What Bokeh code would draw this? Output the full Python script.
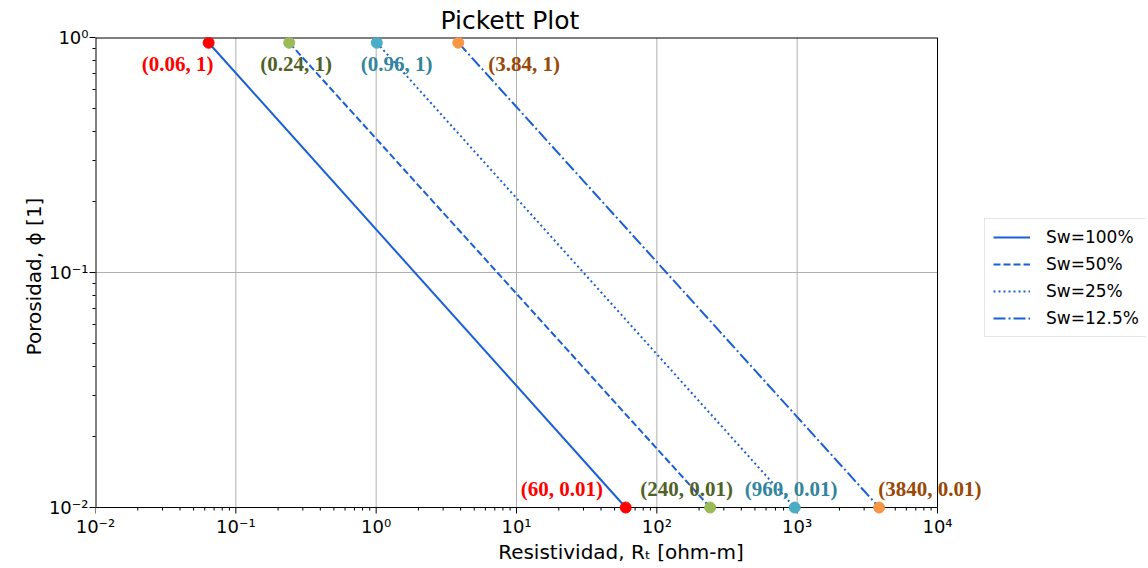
import math
from bokeh.plotting import figure
from bokeh.models import (Legend, LegendItem, FixedTicker,
                          CustomJSTickFormatter, Range1d, Label)
from bokeh.embed import file_html
from bokeh.resources import INLINE

# ---- data ----
series_labels = ["Sw=100%", "Sw=50%", "Sw=25%", "Sw=12.5%"]
rt_top = [0.064, 0.24, 1.01, 3.85]
phi_top = [0.95, 0.95, 0.95, 0.95]
rt_bottom = [60, 240, 960, 3840]
phi_bottom = [0.01, 0.01, 0.01, 0.01]
top_texts = ["(0.06, 1)", "(0.24, 1)", "(0.96, 1)", "(3.84, 1)"]
bottom_texts = ["(60, 0.01)", "(240, 0.01)", "(960, 0.01)", "(3840, 0.01)"]
x_major = [1e-2, 1e-1, 1e0, 1e1, 1e2, 1e3, 1e4]
y_major = [1e-2, 1e-1, 1e0]

# ---- styles / layout ----
line_color = "#1a5fd6"
dashes = ["solid", "7 3", "2 3", "12 3 2 3"]
dot_colors = ["#ff0000", "#9bbb59", "#4bacc6", "#f79646"]
text_colors = ["#ff0000", "#4f6228", "#31859c", "#984807"]
top_dx = [-67, -29, -16, 30]
bottom_dx = [-105, -70, -50, -1]

W, H = 1146, 566
left_b, top_b, bottom_b = 95, 36, 48
axis_px_x = 842      # pixel length of the drawn x axis box
axis_px_y = 471      # pixel height of the drawn y axis box
ext_px = 8           # frame extension below the axis box (room for markers / ticks)
frame_w = W - left_b
x_lo, x_hi = x_major[0], x_major[-1]
y_lo, y_hi = y_major[0], y_major[-1]
ppd_x = axis_px_x / (math.log10(x_hi) - math.log10(x_lo))
ppd_y = axis_px_y / (math.log10(y_hi) - math.log10(y_lo))
x_end = 10 ** (math.log10(x_hi) + (frame_w - axis_px_x) / ppd_x)
y_start = 10 ** (math.log10(y_lo) - ext_px / ppd_y)

p = figure(width=W, height=H, x_axis_type="log", y_axis_type="log",
           x_range=Range1d(x_lo, x_end), y_range=Range1d(y_start, y_hi),
           output_backend="svg", toolbar_location=None,
           min_border_left=left_b, min_border_top=top_b, min_border_bottom=bottom_b,
           min_border_right=0)

p.title.text = "Pickett Plot"
p.title.align = "left"
p.title.offset = 345
p.title.standoff = 6
p.title.text_font = "DejaVu Sans"
p.title.text_font_size = "25px"
p.title.text_font_style = "normal"
p.title.text_color = "black"

def minors(majors):
    out = []
    for m in majors[:-1]:
        for k in range(2, 10):
            out.append(m * k)
    return out

fmt = CustomJSTickFormatter(code="""
const sup = {'-':'\u207b','0':'\u2070','1':'\u00b9','2':'\u00b2','3':'\u00b3','4':'\u2074',
             '5':'\u2075','6':'\u2076','7':'\u2077','8':'\u2078','9':'\u2079'};
const e = Math.round(Math.log10(tick));
return '10' + String(e).split('').map(c => sup[c]).join('');
""")

for ax, majors in ((p.xaxis[0], x_major), (p.yaxis[0], y_major)):
    ax.ticker = FixedTicker(ticks=majors, minor_ticks=minors(majors))
    ax.formatter = fmt
    ax.major_label_text_font = "DejaVu Sans"
    ax.major_label_text_font_size = "18px"
    ax.major_label_text_color = "black"
    ax.axis_label_text_font = "DejaVu Sans"
    ax.axis_label_text_font_size = "20px"
    ax.axis_label_text_font_style = "normal"
    ax.axis_label_text_color = "black"
    ax.major_tick_out = 6
    ax.major_tick_in = 0
    ax.minor_tick_out = 3
    ax.minor_tick_in = 0
    ax.axis_line_color = None
    ax.major_tick_line_color = "black"
    ax.minor_tick_line_color = "black"
    ax.major_label_standoff = 1
    ax.axis_label_standoff = 0

# x ticks are drawn at the box edge below (the frame extends a little lower)
p.xaxis.major_tick_out = 0
p.xaxis.minor_tick_out = 0
p.xaxis.major_tick_line_color = None
p.xaxis.minor_tick_line_color = None
p.xaxis.major_label_standoff = 0
p.xaxis.axis_label = "Resistividad, Rₜ [ohm-m]"
p.yaxis.axis_label = "Porosidad, ϕ [1]"

p.xgrid.visible = False
p.ygrid.visible = False
p.outline_line_color = None

grid_color = "#b0b0b0"
for xv in x_major[1:-1]:
    p.line([xv, xv], [y_lo, y_hi], line_color=grid_color, line_width=1)
for yv in y_major[1:-1]:
    p.line([x_lo, x_hi], [yv, yv], line_color=grid_color, line_width=1)

# x tick marks below the box
maj_end = y_lo * 10 ** (-6 / ppd_y)
min_end = y_lo * 10 ** (-3 / ppd_y)
xm = minors(x_major)
p.segment(x0=x_major, y0=[y_lo] * len(x_major), x1=x_major, y1=[maj_end] * len(x_major),
          line_color="black", line_width=1)
p.segment(x0=xm, y0=[y_lo] * len(xm), x1=xm, y1=[min_end] * len(xm),
          line_color="black", line_width=1)

items = []
for i in range(4):
    r = p.line([rt_top[i], rt_bottom[i]], [phi_top[i], phi_bottom[i]],
               line_color=line_color, line_width=2, line_dash=dashes[i])
    items.append(LegendItem(label=series_labels[i], renderers=[r]))

# axis box
p.line([x_lo, x_hi], [y_hi, y_hi], line_color="black", line_width=2)
p.line([x_lo, x_hi], [y_lo, y_lo], line_color="black", line_width=1)
p.line([x_hi, x_hi], [y_lo, y_hi], line_color="black", line_width=1)
p.line([x_lo, x_lo], [y_lo, y_hi], line_color="black", line_width=2)

for i in range(4):
    p.scatter([rt_top[i], rt_bottom[i]], [phi_top[i], phi_bottom[i]],
              size=11, fill_color=dot_colors[i], line_color=dot_colors[i])

for i in range(4):
    p.add_layout(Label(x=rt_top[i], y=phi_top[i], text=top_texts[i],
                       x_offset=top_dx[i], y_offset=-21,
                       text_color=text_colors[i], text_font="Liberation Serif",
                       text_font_style="bold", text_font_size="21px",
                       text_baseline="middle", text_align="left"))
    p.add_layout(Label(x=rt_bottom[i], y=phi_bottom[i], text=bottom_texts[i],
                       x_offset=bottom_dx[i], y_offset=19,
                       text_color=text_colors[i], text_font="Liberation Serif",
                       text_font_style="bold", text_font_size="21px",
                       text_baseline="middle", text_align="left"))

legend = Legend(items=items, location=(889, 178))
legend.label_text_font = "DejaVu Sans"
legend.label_text_font_size = "17px"
legend.label_text_color = "black"
legend.glyph_width = 37
legend.glyph_height = 20
legend.label_height = 20
legend.spacing = 7
legend.padding = 8
legend.margin = 0
legend.border_line_color = "#cccccc"
legend.border_line_width = 1
legend.label_standoff = 16
p.add_layout(legend, "center")

open("out.html", "w").write(file_html(p, INLINE))
